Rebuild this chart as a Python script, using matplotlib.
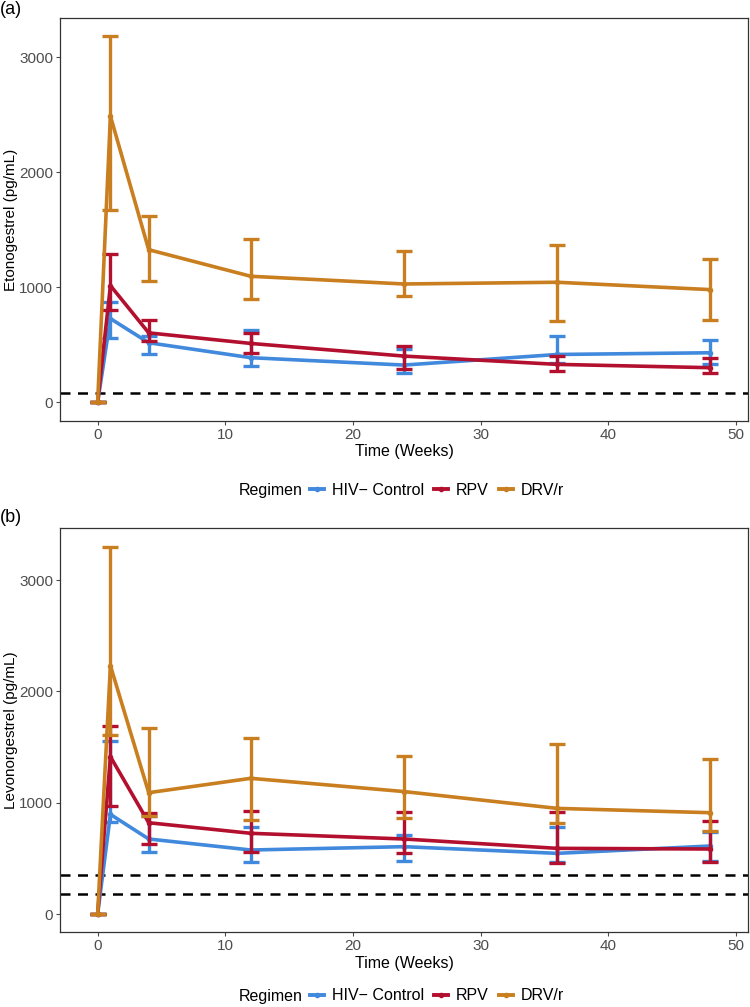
import matplotlib
matplotlib.use("Agg")
import matplotlib.pyplot as plt
from matplotlib.lines import Line2D

plt.rcParams['font.family'] = ['Liberation Sans', 'DejaVu Sans']

# weeks of sampling
weeks = [0, 1, 4, 12, 24, 36, 48]
regimens = ["HIV\u2212 Control", "RPV", "DRV/r"]
colors = ["#4189DD", "#B3102F", "#C97E1F"]

# (a) Etonogestrel: mean, lower, upper per regimen
eto_mean = [[0, 728, 518, 388, 324, 416, 431],
            [0, 1015, 604, 512, 402, 330, 301],
            [0, 2489, 1327, 1096, 1029, 1044, 980]]
eto_lo = [[0, 561, 416, 315, 257, 344, 330],
          [0, 806, 532, 431, 286, 272, 257],
          [0, 1668, 1058, 899, 922, 711, 720]]
eto_hi = [[0, 870, 580, 633, 460, 575, 540],
          [0, 1290, 720, 604, 494, 402, 388],
          [0, 3186, 1622, 1420, 1312, 1365, 1249]]
eto_cutoffs = [85]

# (b) Levonorgestrel
levo_mean = [[0, 895, 674, 575, 605, 545, 611],
             [0, 1413, 820, 725, 674, 590, 584],
             [0, 2231, 1090, 1219, 1100, 949, 910]]
levo_lo = [[0, 829, 554, 470, 476, 470, 480],
           [0, 973, 629, 554, 545, 455, 470],
           [0, 1608, 883, 845, 865, 815, 746]]
levo_hi = [[0, 1554, 883, 784, 710, 784, 740],
           [0, 1692, 905, 925, 919, 913, 836],
           [0, 3300, 1668, 1578, 1421, 1527, 1393]]
levo_cutoffs = [350, 180]

fig = plt.figure(figsize=(7.5, 10.07), dpi=100)
ax_a = fig.add_axes([0.08, 0.5822, 0.9173, 0.3996])
ax_b = fig.add_axes([0.08, 0.0742, 0.9173, 0.4012])


def draw_panel(ax, mean, lo, hi, cutoffs, ylabel, ylim):
    for c in cutoffs:
        ax.axhline(c, color='black', lw=1.8, ls=(0, (4, 3)), zorder=1)
    for i in range(len(regimens)):
        yerr = [[m - l for m, l in zip(mean[i], lo[i])],
                [h - m for m, h in zip(mean[i], hi[i])]]
        ax.errorbar(weeks, mean[i], yerr=yerr, color=colors[i], lw=2.6,
                    elinewidth=2.4, capsize=5.5, capthick=2.4,
                    marker='o', ms=3, zorder=2 + i)
    ax.set_xlim(-2.95, 50.95)
    ax.set_ylim(*ylim)
    ax.set_xticks([0, 10, 20, 30, 40, 50])
    ax.set_yticks([0, 1000, 2000, 3000])
    ax.tick_params(colors='#4D4D4D', labelsize=11, length=3, width=0.8, pad=2)
    ax.set_xlabel("Time (Weeks)", fontsize=11.5, labelpad=2)
    ax.set_ylabel(ylabel, fontsize=11, labelpad=1)
    for s in ax.spines.values():
        s.set_color('#333333')
        s.set_linewidth(0.9)


draw_panel(ax_a, eto_mean, eto_lo, eto_hi, eto_cutoffs,
           "Etonogestrel (pg/mL)", (-160, 3339))
draw_panel(ax_b, levo_mean, levo_lo, levo_hi, levo_cutoffs,
           "Levonorgestrel (pg/mL)", (-164, 3465))

fig.text(0.0, 0.999, "(a)", fontsize=13, va='top', ha='left')
fig.text(0.0, 0.495, "(b)", fontsize=13, va='top', ha='left')

# legends below each panel
handles = [Line2D([], [], color=c, lw=2.8, marker='o', ms=3) for c in colors]
for ypix in (490, 996):
    yf = 1 - ypix / 1007
    fig.text(0.318, yf, "Regimen", fontsize=11.5, ha='left', va='center')
    fig.legend(handles, regimens, loc='center left', bbox_to_anchor=(0.413, yf),
               ncol=3, frameon=False, fontsize=11.5, handlelength=0.9,
               handletextpad=0.5, columnspacing=0.6, borderpad=0, borderaxespad=0)

fig.savefig("out.png", dpi=100)
